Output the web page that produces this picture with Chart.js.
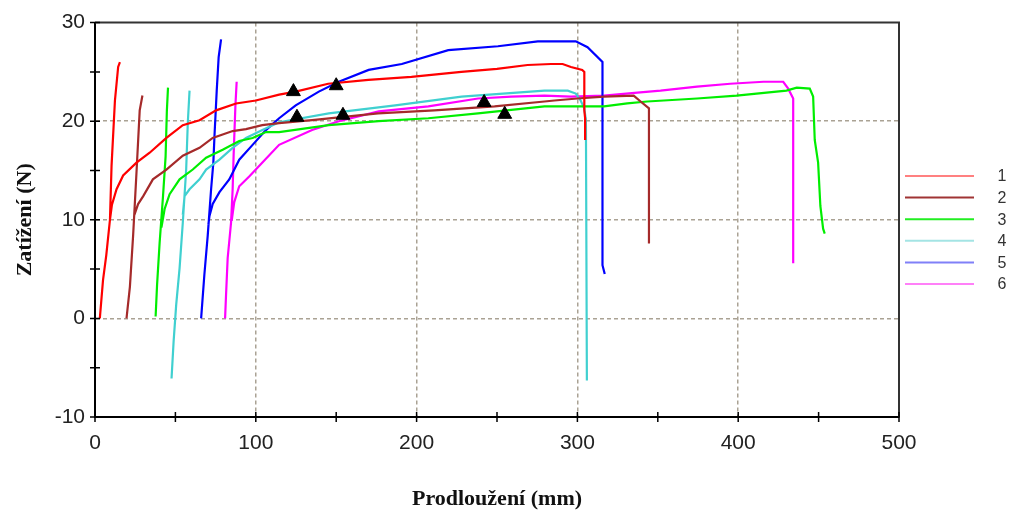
<!DOCTYPE html>
<html>
<head>
<meta charset="utf-8">
<script src="https://cdn.jsdelivr.net/npm/chart.js@4/dist/chart.umd.min.js"></script>
<style>
  html, body { margin: 0; padding: 0; background: #fff; }
  canvas { display: block; }
</style>
</head>
<body>
<canvas id="chart" width="1015" height="513"></canvas>
<script>
// each sample: initial steep rise, then the load/elongation curve  [x (mm), y (N)]
const rise1 = [[3,0],[5,3.9],[7,6.4],[9.3,10],[10.3,15.5],[12.4,22.1],[14.4,25.5],[15.5,26]];
const curve1 = [[9.3,10],[10.5,11.5],[13.4,13.1],[17.5,14.5],[25.8,15.8],[34,16.8],[44.4,18.3],[54.6,19.6],[65,20.1],[75.3,21.1],[87.7,21.8],[100,22.1],[114.5,22.7],[124.8,23.0],[145,23.8],[170,24.2],[196.8,24.5],[227.8,25.0],[250,25.3],[269,25.7],[283.6,25.8],[290.8,25.8],[296,25.5],[303,25.2],[304.3,25],[304.3,21.1],[304.8,20.3],[304.8,18.1]];

const rise2 = [[19.6,0],[21.7,3.2],[23.7,8.4],[25.8,14.8],[27.8,21.1],[29.5,22.6]];
const curve2 = [[24.5,10.5],[26.8,11.6],[30,12.4],[36,14.1],[44.4,15.1],[54.6,16.5],[65,17.3],[73.2,18.3],[85.6,19.0],[93.9,19.2],[104,19.6],[114.5,19.8],[135,20.1],[176,20.8],[211,21.1],[248.5,21.5],[279.5,22.0],[285.7,22.1],[300,22.3],[316.6,22.5],[335,22.6],[339.3,22.0],[344.5,21.3],[344.5,7.6]];

const rise3 = [[37.7,0.2],[38.6,3.4],[40.2,7.7],[42.3,12.4],[43.9,16.4],[44.7,21.1],[45.4,23.4]];
const curve3 = [[41.3,9.2],[43.3,11.1],[46.4,12.6],[52.6,14.1],[60.8,15.1],[69.1,16.3],[79.4,17.1],[89.7,18.0],[98,18.3],[106.3,18.9],[114.5,18.9],[145.4,19.6],[176.4,20.0],[207.3,20.3],[238.2,20.8],[279.5,21.5],[316.6,21.5],[331,21.8],[343.4,22.0],[374.4,22.3],[399,22.6],[430,23.1],[436.4,23.4],[444.5,23.3],[446.6,22.5],[447.6,18.1],[449.7,15.8],[451.1,11.4],[452.8,9.1],[453.8,8.6]];

const rise4 = [[47.6,-6.1],[48.9,-2.3],[50.5,1.4],[52.6,5.1],[54.6,9.7],[56.7,15.1],[57.7,19.8],[58.8,23.1]];
const curve4 = [[54.6,10.5],[55.7,12.4],[58.8,13.1],[65,14.1],[69.1,15.1],[77.4,16.1],[85.6,17.3],[93.9,18.3],[104.1,19.1],[114.5,19.9],[145.4,20.8],[186.7,21.6],[228,22.5],[279.5,23.1],[283.6,23.1],[294,23.1],[299,22.8],[302,22.1],[304.3,21.3],[305.3,20.1],[305.9,-6.3]];

const rise5 = [[66,0],[68,4.4],[70.1,8.4],[72.2,13.1],[73.6,15.8],[74.3,18.5],[75.7,23.1],[76.9,26.5],[78.4,28.3]];
const curve5 = [[70.5,9.5],[71.2,10.4],[73.2,11.6],[77.4,12.8],[83.5,14.1],[89.7,16.1],[98,17.6],[106.3,19.1],[114.5,20.3],[124.8,21.6],[139.2,23.0],[151.6,24.0],[170.2,25.2],[190.8,25.8],[219.7,27.2],[250.6,27.6],[275.4,28.1],[299,28.1],[306.3,27.5],[315.6,26.0],[315.6,5.4],[317,4.5]];

const rise6 = [[80.9,0],[81.5,2.4],[82.5,6.1],[84.6,9.7],[85.6,13.1],[86.2,16.5],[87.3,21.5],[88.1,24.0]];
const curve6 = [[85,9.9],[86.6,11.8],[89.7,13.4],[95.9,14.4],[104.1,15.8],[114.5,17.6],[135,19.1],[151.6,20.0],[176.4,21.0],[207.3,21.5],[238.2,22.3],[258.9,22.5],[279.5,22.6],[296,22.5],[316.6,22.6],[337.3,22.9],[351.7,23.1],[374.4,23.5],[395,23.8],[415.7,24.0],[428,24.0],[431.1,23.3],[434.2,22.3],[434.2,5.6]];

// yield markers (black triangles)
const markX = [123.4, 150.0, 125.6, 154.2, 242.0, 254.8];
const markY = [23.0, 23.6, 20.4, 20.6, 21.9, 20.7];

const labels = ['1', '2', '3', '4', '5', '6'];
const colors = ['#ff0000', '#a52a2a', '#00ee00', '#40d0d0', '#0000ff', '#ff00ff'];
const legendColors = ['#ff8080', '#a03434', '#22ee22', '#a4e4e4', '#8080f8', '#ff80f8'];

const rises = [rise1, rise2, rise3, rise4, rise5, rise6];
const curves = [curve1, curve2, curve3, curve4, curve5, curve6];

const toPt = p => ({ x: p[0], y: p[1] });

const datasets = rises.map((r, i) => ({
    label: labels[i],
    data: r.map(toPt).concat([{ x: r[r.length - 1][0], y: null }], curves[i].map(toPt)),
    borderColor: colors[i],
    borderWidth: 2.2,
    pointRadius: 0,
    tension: 0,
    spanGaps: false
}));

datasets.push({
    type: 'scatter',
    label: 'marks',
    order: -1,
    data: markX.map((x, i) => ({ x: x, y: markY[i] })),
    pointStyle: 'triangle',
    pointRadius: 8,
    backgroundColor: '#000',
    borderColor: '#000',
    borderWidth: 1
});

const gridColor = '#aaa294';

// top/right frame, crossing tick marks and the side legend
const frame = {
    id: 'frame',
    afterDatasetsDraw(chart) {
        const c = chart.ctx;
        const a = chart.chartArea;
        const xs = chart.scales.x, ys = chart.scales.y;
        c.save();
        c.strokeStyle = '#333';
        c.lineWidth = 2;
        c.beginPath();
        c.moveTo(a.left, a.top);
        c.lineTo(a.right, a.top);
        c.lineTo(a.right, a.bottom);
        c.stroke();
        c.strokeStyle = '#000';
        c.lineWidth = 1.5;
        c.beginPath();
        xs.ticks.forEach(t => {
            const px = xs.getPixelForValue(t.value);
            c.moveTo(px, a.bottom - 5);
            c.lineTo(px, a.bottom + 5);
        });
        ys.ticks.forEach(t => {
            const py = ys.getPixelForValue(t.value);
            c.moveTo(a.left - 5, py);
            c.lineTo(a.left + 5, py);
        });
        c.stroke();
        c.restore();
    },
    afterDraw(chart) {
        const c = chart.ctx;
        c.save();
        c.font = '16px "Liberation Sans", Arial, sans-serif';
        c.textAlign = 'center';
        c.textBaseline = 'middle';
        labels.forEach((l, i) => {
            const y = 176 + i * 21.6;
            c.strokeStyle = legendColors[i];
            c.lineWidth = 2;
            c.beginPath();
            c.moveTo(905, y);
            c.lineTo(974, y);
            c.stroke();
            c.fillStyle = '#333';
            c.fillText(l, 1002, y + 1);
        });
        c.restore();
    }
};

new Chart(document.getElementById('chart'), {
    type: 'line',
    data: { datasets: datasets },
    options: {
        responsive: false,
        animation: false,
        layout: { padding: { left: 0, top: 18, right: 116, bottom: 0 } },
        plugins: {
            legend: { display: false },
            tooltip: { enabled: false }
        },
        scales: {
            x: {
                type: 'linear',
                min: 0,
                max: 500,
                afterFit: s => { s.height = 96; },
                ticks: {
                    stepSize: 50,
                    autoSkip: false,
                    maxRotation: 0,
                    padding: 14,
                    color: '#222',
                    font: { family: '"Liberation Sans", Arial, sans-serif', size: 21 },
                    callback: v => (v % 100 === 0 ? v : '')
                },
                grid: {
                    drawTicks: false,
                    lineWidth: 1.5,
                    color: ctx => (ctx.tick && ctx.tick.value % 100 === 0 && ctx.tick.value > 0 && ctx.tick.value < 500) ? gridColor : 'rgba(0,0,0,0)'
                },
                border: { display: true, color: '#000', width: 2, dash: [4, 3] },
                title: {
                    display: true,
                    text: 'Prodloužení (mm)',
                    color: '#111',
                    padding: { top: 0, bottom: 0 },
                    font: { family: '"Liberation Serif", "Times New Roman", serif', size: 22, weight: 'bold', lineHeight: 1.2 }
                }
            },
            y: {
                min: -10,
                max: 30,
                afterFit: s => { s.width = 95; },
                ticks: {
                    stepSize: 5,
                    autoSkip: false,
                    padding: 10,
                    color: '#222',
                    font: { family: '"Liberation Sans", Arial, sans-serif', size: 21 },
                    callback: v => (v % 10 === 0 ? v : '')
                },
                grid: {
                    drawTicks: false,
                    lineWidth: 1.5,
                    color: ctx => (ctx.tick && ctx.tick.value % 10 === 0 && ctx.tick.value > -10 && ctx.tick.value < 30) ? gridColor : 'rgba(0,0,0,0)'
                },
                border: { display: true, color: '#000', width: 2, dash: [4, 3] },
                title: {
                    display: true,
                    text: 'Zatížení (N)',
                    color: '#111',
                    padding: { top: 12, bottom: 0 },
                    font: { family: '"Liberation Serif", "Times New Roman", serif', size: 22, weight: 'bold', lineHeight: 1.2 }
                }
            }
        }
    },
    plugins: [frame]
});
</script>
</body>
</html>
